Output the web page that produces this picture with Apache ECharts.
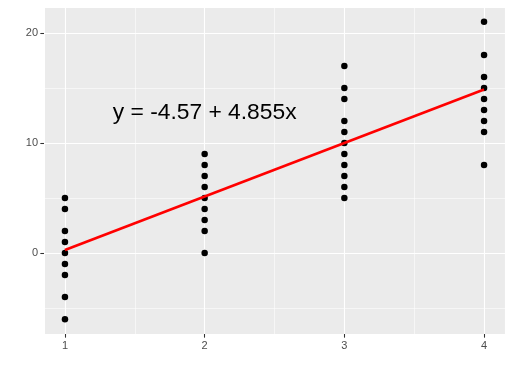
<!DOCTYPE html>
<html>
<head>
<meta charset="utf-8">
<script src="https://cdn.jsdelivr.net/npm/echarts@6/dist/echarts.min.js"></script>
<style>
html,body{margin:0;padding:0;background:#fff;}
#c{width:513px;height:378px;}
</style>
</head>
<body>
<div id="c"></div>
<script>
const group1 = [5, 4, 2, 1, 0, -1, -2, -4, -6];
const group2 = [9, 8, 7, 6, 5, 4, 3, 2, 0];
const group3 = [17, 15, 14, 12, 11, 10, 9, 8, 7, 6, 5];
const group4 = [21, 18, 16, 15, 14, 13, 12, 11, 8];
const groupX = [1, 2, 3, 4];
// fitted line end points (y = -4.57 + 4.855x)
const fitX = [1, 4];
const fitY = [0.285, 14.85];
const equationText = 'y = -4.57 + 4.855x';
const equationPos = [2, 13];
const xRange = [0.85, 4.15];
const yRange = [-7.35, 22.35];

const groups = [group1, group2, group3, group4];
const points = [];
groups.forEach((g, i) => g.forEach(v => points.push([groupX[i], v])));
const fitLine = fitX.map((x, i) => [x, fitY[i]]);

const FONT = '"Liberation Sans", Arial, sans-serif';
const chart = echarts.init(document.getElementById('c'));
const axisCommon = {
  type: 'value',
  axisLine: {show: false, onZero: false},
  axisTick: {show: true, length: 3.67, lineStyle: {color: '#333333', width: 1.07}},
  axisLabel: {color: '#4D4D4D', fontSize: 11, fontFamily: FONT, margin: 6},
  splitLine: {show: true, lineStyle: {color: '#FFFFFF', width: 1.1}},
  minorTick: {show: false, splitNumber: 2},
  minorSplitLine: {show: true, lineStyle: {color: '#FFFFFF', width: 0.55}}
};
chart.setOption({
  animation: false,
  backgroundColor: '#FFFFFF',
  grid: {
    left: 44, right: 8, top: 7, bottom: 44,
    containLabel: false, outerBoundsMode: 'none',
    show: true, backgroundColor: '#EBEBEB', borderWidth: 0
  },
  xAxis: Object.assign({}, axisCommon, {
    position: 'bottom',
    min: xRange[0], max: xRange[1], minInterval: 1, maxInterval: 1,
    axisLabel: Object.assign({}, axisCommon.axisLabel, {
      formatter: v => Number.isInteger(v) ? String(v) : '',
      showMinLabel: false, showMaxLabel: false
    })
  }),
  yAxis: Object.assign({}, axisCommon, {
    position: 'left',
    min: yRange[0], max: yRange[1], minInterval: 10, maxInterval: 10,
    axisLabel: Object.assign({}, axisCommon.axisLabel, {
      formatter: v => (Math.abs(v % 10) < 1e-9) ? String(v) : '',
      showMinLabel: false, showMaxLabel: false
    })
  }),
  series: [
    {
      type: 'scatter',
      data: points,
      symbolSize: 6.5,
      itemStyle: {color: '#000000', opacity: 1},
      z: 3
    },
    {
      type: 'line',
      data: fitLine,
      symbol: 'none',
      lineStyle: {color: '#FF0000', width: 2.6, opacity: 1},
      z: 4
    },
    {
      type: 'scatter',
      data: [equationPos],
      symbolSize: 0,
      silent: true,
      itemStyle: {opacity: 1},
      label: {
        show: true, position: 'inside',
        formatter: equationText,
        color: '#000000', fontSize: 22.8, fontFamily: FONT,
        align: 'center', verticalAlign: 'middle', offset: [0, 3]
      },
      z: 5
    }
  ]
});
</script>
</body>
</html>
